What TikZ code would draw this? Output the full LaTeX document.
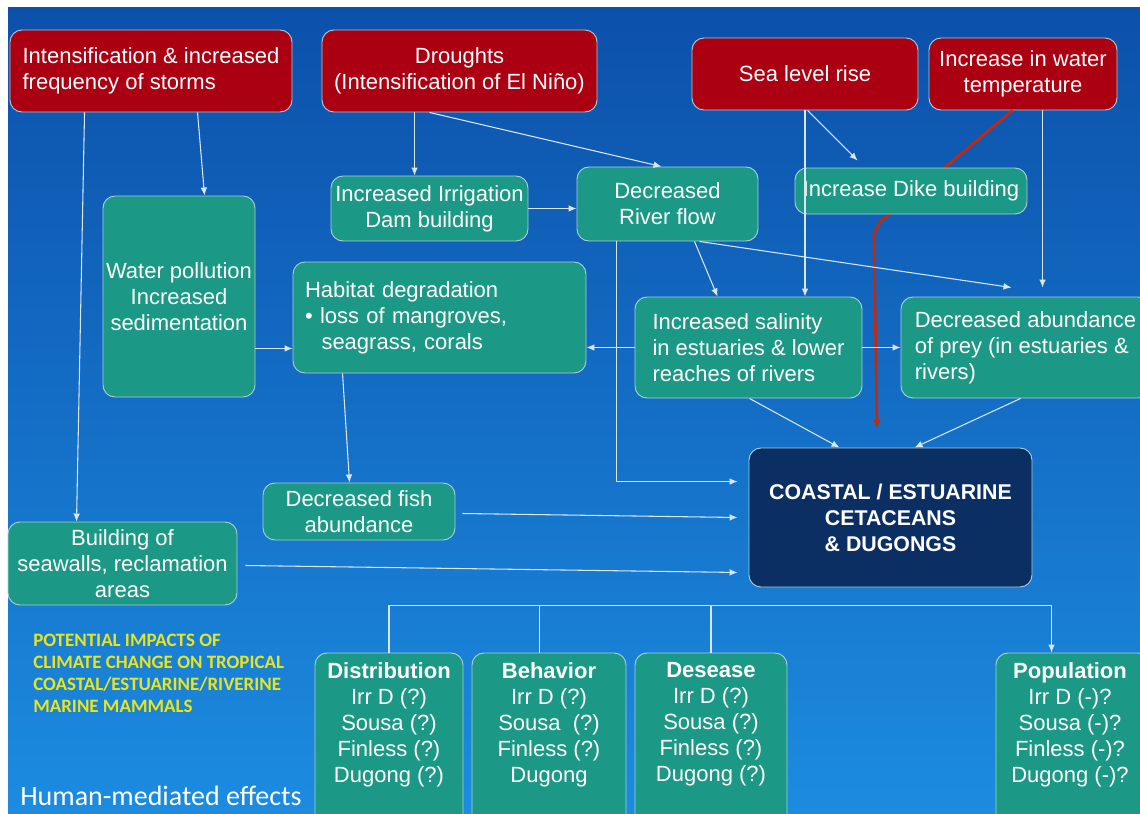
\documentclass[tikz,border=0pt]{standalone}
\usepackage{fontspec}
\setmainfont{Liberation Sans}
\newfontfamily\calib{Carlito}
\usetikzlibrary{arrows.meta,calc}
\definecolor{bgtop}{HTML}{0C50AA}
\definecolor{bgmid}{HTML}{1365C2}
\definecolor{bgbot}{HTML}{1C8CE0}
\definecolor{redfill}{HTML}{AA0012}
\definecolor{tealfill}{HTML}{1C9886}
\definecolor{navyfill}{HTML}{0C2F63}
\definecolor{boxline}{HTML}{A8CFD8}
\definecolor{linecol}{HTML}{D8E6F2}
\definecolor{redline}{HTML}{C8280A}
\definecolor{yellowtxt}{HTML}{E8E41E}
\begin{document}
\begin{tikzpicture}[x=0.75pt,y=-0.75pt,
  sz/.style 2 args={minimum width=#1*0.75pt, minimum height=#2*0.75pt},
  base/.style={draw=boxline, line width=0.7pt, rounded corners=9pt, inner sep=0pt, align=center, text=white, font=\fontsize{16.5}{19.5}\selectfont},
  redbox/.style={base, fill=redfill},
  tealbox/.style={base, fill=tealfill},
  navybox/.style={base, fill=navyfill, font=\bfseries\fontsize{16}{19.5}\selectfont},
  boxtext/.style={anchor=north, align=center, inner sep=0pt, text=white, font=\fontsize{16.5}{19.5}\selectfont},
  conn/.style={draw=linecol, line width=0.8pt},
  arr/.style={conn, -{Latex[length=6pt,width=5pt]}},
  redarr/.style={draw=redline, line width=2pt, -{Latex[length=6pt,width=6pt]}},
]
\useasboundingbox (0,0) rectangle (1140,814);
\fill[white] (0,0) rectangle (1140,814);
\shade[top color=bgtop, middle color=bgmid, bottom color=bgbot] (8,7) rectangle (1140,814);

% top row
\node[redbox, sz={282}{82}, align=left] (storms) at (151,71) {Intensification \& increased\\frequency of storms};
\node[redbox, sz={275}{82}] (drought) at (459.5,71) {Droughts\\(Intensification of El Niño)};
\node[redbox, sz={226}{72}] (sea) at (805,74) {Sea level rise};
\node[redbox, sz={188}{72}] (temp) at (1023,74) {Increase in water\\temperature};

% red connector (runs behind the dike box)
\coordinate (redend) at (877,428);
\draw[redarr] ($(temp.south west)+(84,0)$) -- (880,222) -- (874,234) -- (redend);

% middle boxes
\node[tealbox, sz={197}{65}] (irrig) at (429.5,208.5) {Increased Irrigation\\Dam building};
\node[tealbox, sz={181}{74}] (river) at (667.5,204) {Decreased\\River flow};
\node[tealbox, sz={232}{46}] (dike) at (911,191) {Increase Dike building};
\node[tealbox, sz={152}{201}] (water) at (179,296.5) {Water pollution\\Increased\\sedimentation};
\node[tealbox, sz={293}{111}, text width=269*0.75pt, align=left] (habitat) at (439.5,317.5) {Habitat degradation\\\textbullet{} loss of mangroves,\\\hspace*{0.75em}seagrass, corals};
\node[tealbox, sz={227}{101}, align=left] (salin) at (748.5,347.5) {Increased salinity\\in estuaries \& lower\\reaches of rivers};
\node[tealbox, sz={249}{101}, align=left] (prey) at (1025.5,347.5) {Decreased abundance\\of prey (in estuaries \&\\rivers)};
\node[navybox, sz={283}{139}] (coastal) at (890.5,517.5) {COASTAL / ESTUARINE\\CETACEANS\\\& DUGONGS};
\node[tealbox, sz={192}{57}] (fish) at (359,511.5) {Decreased fish\\abundance};
\node[tealbox, sz={229}{83}] (seawall) at (122.5,563.5) {Building of\\seawalls, reclamation\\areas};

% bottom boxes
\node[tealbox, sz={148}{177}] (dist) at (389,741.5) {};
\node[tealbox, sz={154}{177}] (behav) at (549,741.5) {};
\node[tealbox, sz={152}{177}] (dese) at (711,741.5) {};
\node[tealbox, sz={154}{177}] (popu) at (1073,741.5) {};
\node[boxtext] (distt) at (389,662) {\textbf{Distribution}\\Irr D (?)\\Sousa (?)\\Finless (?)\\Dugong (?)};
\node[boxtext] (behavt) at (549,662) {\textbf{Behavior}\\Irr D (?)\\Sousa~~(?)\\Finless (?)\\Dugong};
\node[boxtext] (deset) at (711,662) {\textbf{Desease}\\Irr D (?)\\Sousa (?)\\Finless (?)\\Dugong (?)};
\node[boxtext] (poput) at (1070,662) {\textbf{Population}\\Irr D (-)?\\Sousa (-)?\\Finless (-)?\\Dugong (-)?};

% free texts
\node[anchor=north west, align=left, inner sep=0pt, text=yellowtxt, font=\calib\bfseries\fontsize{14.2}{16.5}\selectfont] (caption) at (33,634) {POTENTIAL IMPACTS OF\\CLIMATE CHANGE ON TROPICAL\\COASTAL/ESTUARINE/RIVERINE\\MARINE MAMMALS};
\node[anchor=base west, inner sep=0pt, text=white, font=\calib\fontsize{21}{24}\selectfont] (human) at (20,805) {Human-mediated effects};

% connectors
\draw[arr] ($(storms.south west)+(75,0)$) -- ($(seawall.north west)+(69,0)$);
\draw[arr] ($(storms.south west)+(188,0)$) -- ($(water.north west)+(102,0)$);
\draw[arr] ($(drought.south west)+(93,0)$) -- ($(irrig.north west)+(84,0)$);
\draw[arr] ($(drought.south west)+(108,0)$) -- ($(river.north west)+(85,0)$);
\draw[arr] (irrig.east) -- (irrig.east -| river.west);
\draw[arr] ($(sea.south west)+(116,0)$) -- ($(dike.north west)+(63,-7)$);
\draw[arr] (sea.south) -- (sea.south |- salin.north);
\coordinate (t1) at ($(temp.south west)+(114,0)$);
\coordinate (p0) at ($(prey.north west)+(0,-9)$);
\draw[arr] (t1) -- (t1 |- p0);
\draw[arr] ($(river.south west)+(118,0)$) -- ($(salin.north west)+(83,0)$);
\draw[arr] ($(river.south west)+(123,0)$) -- ($(prey.north west)+(111,-9)$);
\coordinate (r3) at ($(river.south west)+(40,0)$);
\coordinate (c3) at ($(coastal.north west)+(-11,34)$);
\draw[arr] (r3) |- (c3);
\draw[arr] (salin.west) -- (salin.west -| habitat.east);
\draw[arr] (salin.east) -- (salin.east -| prey.west);
\draw[arr] ($(salin.south west)+(115,0)$) -- ($(coastal.north west)+(91,0)$);
\draw[arr] ($(prey.south west)+(120,0)$) -- ($(coastal.north west)+(166,0)$);
\coordinate (w1) at ($(water.south east)+(0,-49)$);
\draw[arr] (w1) -- (w1 -| habitat.west);
\draw[arr] ($(habitat.south west)+(50,0)$) -- ($(fish.north west)+(87,0)$);
\draw[arr] ($(fish.east)+(7,2)$) -- ($(coastal.west)+(-11,0)$);
\draw[arr] ($(seawall.east)+(8,2)$) -- ($(coastal.south west)+(-11,-15)$);

% distribution tree
\coordinate (bus) at ($(coastal.south)+(0,18)$);
\coordinate (b2) at ($(behav.north west)+(68,0)$);
\coordinate (b4) at ($(popu.north west)+(56,0)$);
\draw[conn] (dist.north) |- (b4 |- bus);
\draw[conn] (b2 |- bus) -- (b2);
\draw[conn] (dese.north |- bus) -- (dese.north);
\draw[arr] (b4 |- bus) -- (b4);
\end{tikzpicture}
\end{document}
